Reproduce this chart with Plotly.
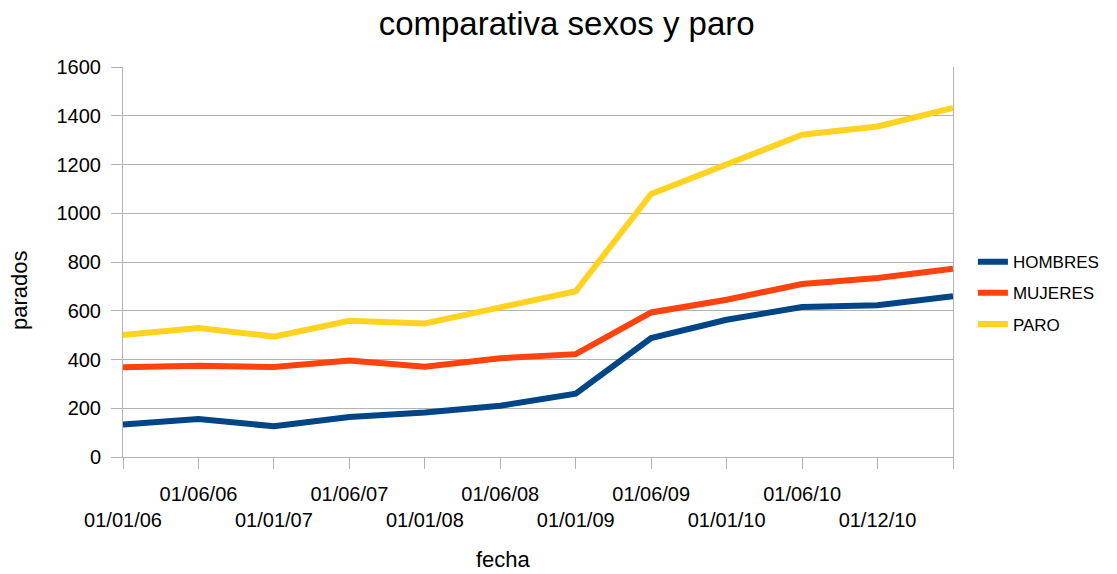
import plotly.graph_objects as go

fechas = ["01/01/06", "01/06/06", "01/01/07", "01/06/07", "01/01/08", "01/06/08",
          "01/01/09", "01/06/09", "01/01/10", "01/06/10", "01/12/10", ""]
hombres = [133, 156, 126, 164, 183, 210, 260, 488, 563, 615, 623, 660]
mujeres = [368, 374, 369, 396, 370, 405, 422, 593, 645, 710, 734, 772]
paro = [500, 529, 494, 559, 548, 615, 680, 1079, 1202, 1322, 1356, 1432]

series = [("HOMBRES", hombres, "#004586"),
          ("MUJERES", mujeres, "#ff420e"),
          ("PARO", paro, "#ffd320")]

FONT = "Liberation Sans, Arial, sans-serif"
idx = list(range(len(fechas)))
ticktext = [("<br>" + f if i % 2 == 0 else f) for i, f in enumerate(fechas)]

fig = go.Figure()
for name, vals, color in series:
    fig.add_trace(go.Scatter(x=idx, y=vals, mode="lines", name=name,
                             legendgroup=name,
                             line=dict(color=color, width=6)))

fig.update_layout(
    width=1117, height=574,
    margin=dict(l=123, r=164, t=67, b=117, autoexpand=False),
    paper_bgcolor="white", plot_bgcolor="white",
    font=dict(family=FONT, color="black", size=20),
    title=dict(text="comparativa sexos y paro", x=0.5073, xanchor="center",
               y=0.96, yanchor="middle", font=dict(size=33)),
    legend=dict(x=1.024, y=0.42, xanchor="left", yanchor="middle",
                font=dict(size=17), traceorder="grouped", tracegroupgap=6,
                itemwidth=30),
    showlegend=True,
    annotations=[
        dict(text="parados", xref="paper", yref="paper", x=0, y=0.428,
             xshift=-104, xanchor="center", yanchor="middle", textangle=-90,
             showarrow=False, font=dict(size=22)),
        dict(text="fecha", xref="paper", yref="paper", x=0.459, y=-0.264,
             xanchor="center", yanchor="middle", showarrow=False,
             font=dict(size=22)),
    ],
)
fig.update_xaxes(
    range=[0, len(fechas) - 1], tickmode="array", tickvals=idx, ticktext=ticktext,
    showgrid=False, showline=True, linecolor="#b3b3b3", linewidth=1,
    ticks="outside", ticklen=11, tickcolor="#b3b3b3", tickfont=dict(size=20),
    tickangle=0, ticklabelstandoff=8, automargin=False,
    zeroline=False,
)
fig.update_yaxes(
    range=[0, 1600], dtick=200, showgrid=True, gridcolor="#b3b3b3", gridwidth=1,
    showline=True, linecolor="#b3b3b3", linewidth=1, mirror=True,
    ticks="outside", ticklen=11, tickcolor="#b3b3b3", tickfont=dict(size=20),
    ticklabelstandoff=6, automargin=False,
    zeroline=False,
)
fig.write_html("out.html", config={"displayModeBar": False},
               post_script="document.body.style.margin='0';")
